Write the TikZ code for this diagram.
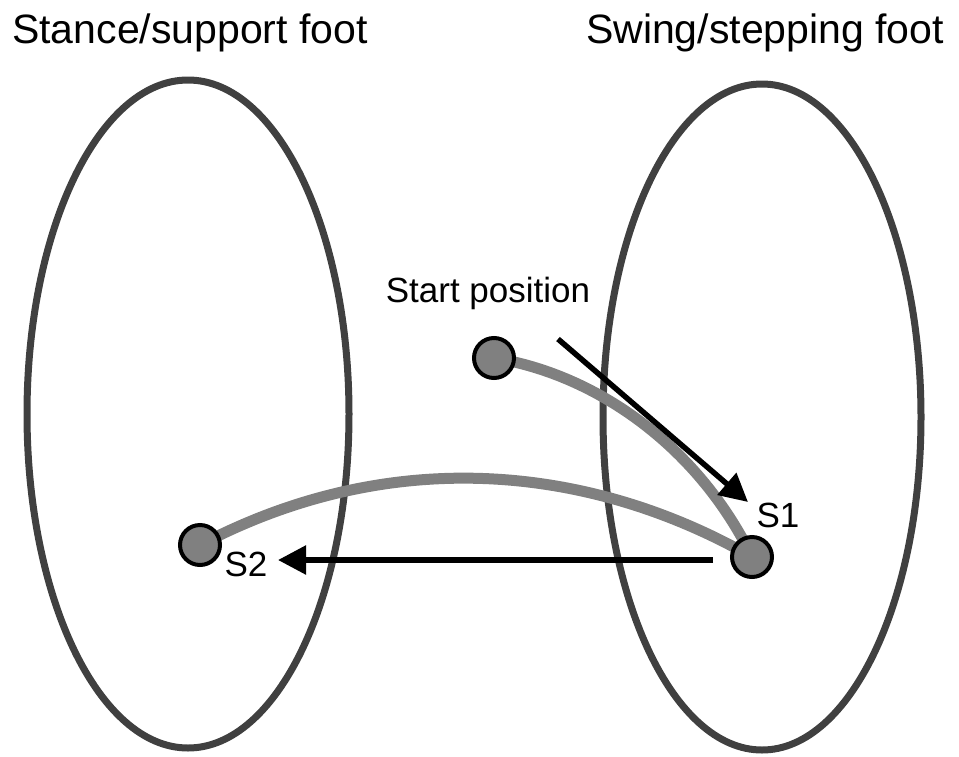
\documentclass[tikz,border=0pt]{standalone}
\usepackage{fontspec}
\setmainfont{Liberation Sans}
\usetikzlibrary{arrows.meta}
\begin{document}
\begin{tikzpicture}[x=1pt,y=-1pt,
  foot/.style={draw=black!75,line width=7pt},
  dot/.style={circle,draw=black,line width=4pt,fill=black!50,minimum size=40pt,inner sep=0pt},
  path/.style={draw=black!50,line width=11pt},
  move/.style={draw=black,line width=5.5pt,-{Triangle[length=28pt,width=28pt]}},
  title/.style={font=\fontsize{41}{44}\selectfont},
  lbl/.style={font=\fontsize{35}{38}\selectfont}]
\useasboundingbox (0,0) rectangle (959,756);
\draw[foot] (188,414) ellipse [x radius=161, y radius=334];
\draw[foot] (762,417) ellipse [x radius=159, y radius=333];
\coordinate (st) at (494,358);
\coordinate (s1) at (752,557);
\coordinate (s2) at (200,545);
\draw[path] (st) .. controls (600,375) and (700,450) .. (s1);
\draw[path] (s2) .. controls (400,440) and (600,470) .. (s1);
\node[dot] (dst) at (st) {};
\node[dot] (ds1) at (s1) {};
\node[dot] (ds2) at (s2) {};
\coordinate (a1s) at (558,339);
\coordinate (a1e) at (748,502);
\coordinate (a2s) at (713,560);
\coordinate (a2e) at (278,560);
\draw[move] (a1s) -- (a1e);
\draw[move] (a2s) -- (a2e);
\node[lbl] (tstart) at (488,293) {Start position};
\node[lbl] (t1) at (778,515) {S1};
\node[lbl] (t2) at (246,564) {S2};
\node[title] (tl) at (190,33) {Stance/support foot};
\node[title] (tr) at (765,33) {Swing/stepping foot};
\end{tikzpicture}
\end{document}
